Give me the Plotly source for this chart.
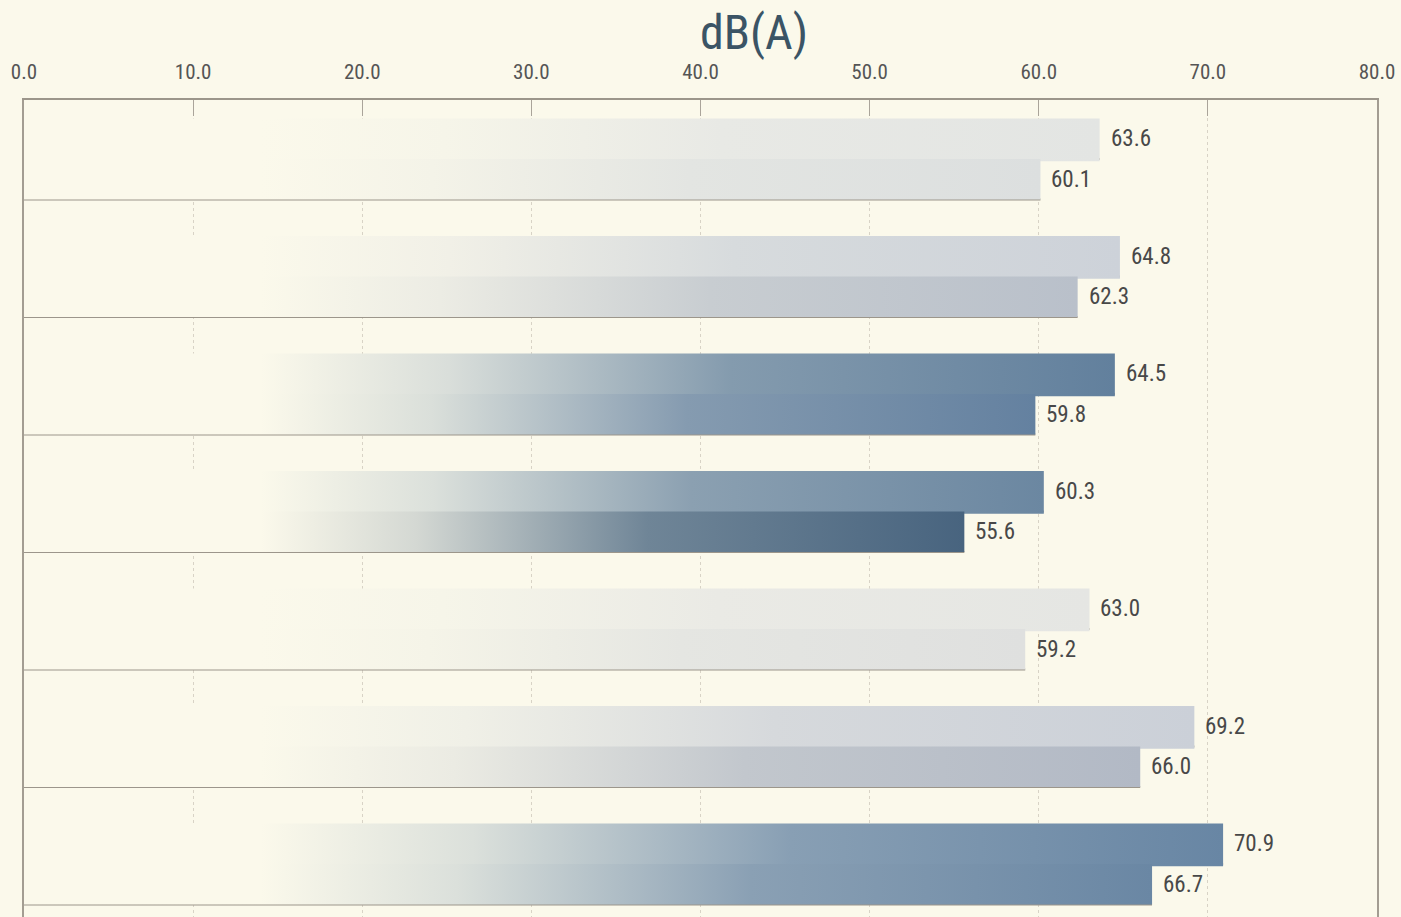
import plotly.graph_objects as go

# ---------------- data ----------------
groups = ["G1", "G2", "G3", "G4", "G5", "G6", "G7"]
top_values = [63.6, 64.8, 64.5, 60.3, 63.0, 69.2, 70.9]
bottom_values = [60.1, 62.3, 59.8, 55.6, 59.2, 66.0, 66.7]
top_colors = ["#e3e5e3", "#cdd2d9", "#62809d", "#6b87a1", "#e5e6e3", "#cbd0d8", "#6886a4"]
bottom_colors = ["#dcdfdf", "#b9c0ca", "#6481a0", "#48647f", "#dfe0df", "#b2b9c5", "#6a87a4"]
tick_vals = [0, 10, 20, 30, 40, 50, 60, 70, 80]
tick_text = ["0.0", "10.0", "20.0", "30.0", "40.0", "50.0", "60.0", "70.0", "80.0"]
axis_title = "dB(A)"

BG = "#fbf9eb"
FONT = "Liberation Sans Narrow, Roboto Condensed, Roboto, sans-serif"
EDGE = "#9c968b"


def hex2rgb(h):
    h = h.lstrip("#")
    return tuple(int(h[i:i + 2], 16) for i in (0, 2, 4))


def mix(c1, c2, t):
    a, b = hex2rgb(c1), hex2rgb(c2)
    return "rgb(%d,%d,%d)" % tuple(round(a[k] + (b[k] - a[k]) * t) for k in range(3))


BAR_H = 0.345
OFFSET = 0.28
OVERLAP = 0.02

fig = go.Figure()
annotations = []

for i, g in enumerate(groups):
    for s, (vals, cols) in enumerate(((top_values, top_colors), (bottom_values, bottom_colors))):
        v = vals[i]
        c = cols[i]
        y0 = i + OFFSET + s * BAR_H
        y1 = y0 + BAR_H
        # bar bottom edge line
        fig.add_trace(go.Scatter(
            x=[0, v], y=[y1, y1], mode="lines",
            line=dict(color=EDGE, width=2), hoverinfo="skip", showlegend=False))
        # gradient bar (top bar slightly overlaps the bottom one to avoid a seam)
        yb = y1 + (OVERLAP if s == 0 else 0)
        fig.add_trace(go.Scatter(
            x=[0, v, v, 0, 0], y=[y0, y0, yb, yb, y0],
            mode="lines", line=dict(width=0), fill="toself",
            fillgradient=dict(
                type="horizontal", start=14, stop=v,
                colorscale=[[0, BG], [0.22, mix(BG, c, 0.22)], [0.55, mix(BG, c, 0.78)], [1, c]]),
            name=g, hoverinfo="skip", showlegend=False))
        annotations.append(dict(
            x=v, y=(y0 + y1) / 2, xref="x", yref="y", text=f"{v:.1f}",
            showarrow=False, xanchor="left", yanchor="middle", xshift=9,
            font=dict(family=FONT, size=23, color="#484848")))

PX_PER_GROUP = 117.5
Y_ORIGIN = 85.5
H = 917
TOP = 100
plot_h = H - TOP

annotations.append(dict(
    x=0.5395, y=1 + (TOP - 33) / plot_h, xref="paper", yref="paper",
    yanchor="middle", xanchor="center",
    text=axis_title, showarrow=False,
    font=dict(family=FONT, size=48, color="#3b5465")))

fig.update_layout(
    width=1401, height=917,
    margin=dict(l=24, r=24, t=TOP, b=0),
    paper_bgcolor=BG, plot_bgcolor=BG,
    annotations=annotations,
    xaxis=dict(
        side="top", range=[0, 80], tickvals=tick_vals, ticktext=tick_text,
        showline=True, linecolor=EDGE, linewidth=2, mirror=False,
        ticks="inside", ticklen=16, tickcolor="#aaa49a", tickwidth=1,
        ticklabelstandoff=11,
        showgrid=True, gridcolor="#d8d3c6", griddash="dot", gridwidth=1,
        zeroline=False,
        tickfont=dict(family=FONT, size=21, color="#555555"),
    ),
    yaxis=dict(
        range=[(H - Y_ORIGIN) / PX_PER_GROUP, (TOP - Y_ORIGIN) / PX_PER_GROUP],
        showticklabels=False, showgrid=False, zeroline=False,
        showline=True, linecolor="#a39d92", linewidth=1.5, mirror=True,
    ),
)

fig.write_html(
    "out.html",
    config={"displayModeBar": False},
    post_script="document.body.style.margin='0';document.body.style.background='%s';" % BG,
)
